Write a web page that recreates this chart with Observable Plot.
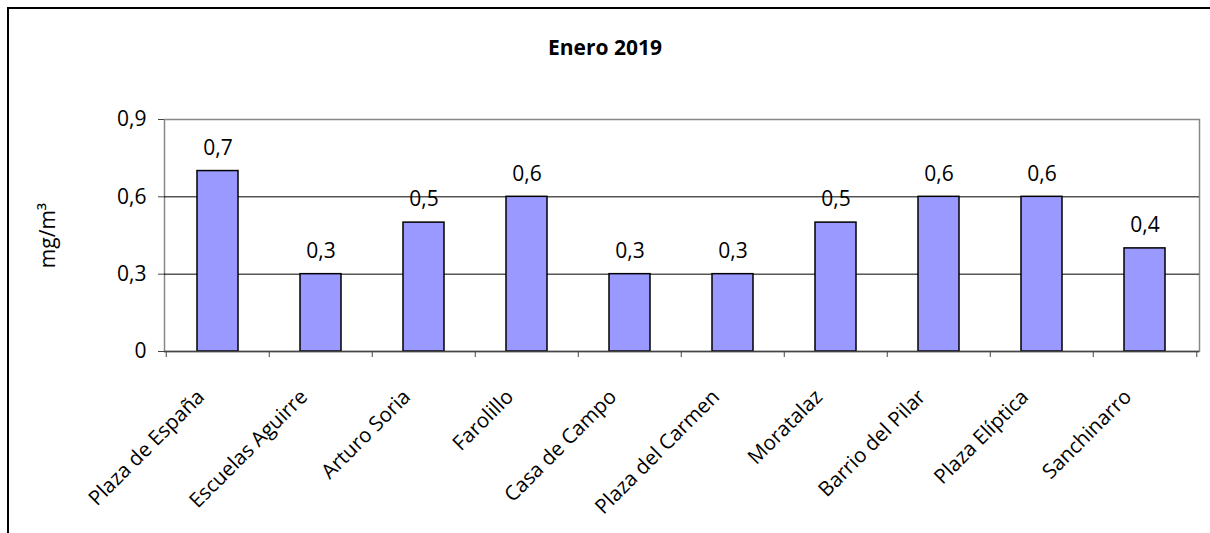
<!DOCTYPE html>
<html>
<head>
<meta charset="utf-8">
<script src="https://cdn.jsdelivr.net/npm/d3@7"></script>
<script src="https://cdn.jsdelivr.net/npm/@observablehq/plot@0.6"></script>
<style>
  html, body { margin: 0; padding: 0; background: #fff; }
  #wrap { position: relative; width: 1210px; height: 533px; overflow: hidden; font-family: "Open Sans", sans-serif; }
  #border { position: absolute; left: 7px; top: 7px; width: 1210px; height: 540px; border-left: 2px solid #000; border-top: 2px solid #000; box-sizing: border-box; }
  #title { height: 80px; box-sizing: border-box; padding-top: 33px; text-align: center; font-weight: bold; font-size: 21px; line-height: 28px; color: #000; }
  svg { display: block; }
</style>
</head>
<body>
<div id="wrap">
  <div id="border"></div>
  <div id="title">Enero 2019</div>
  <div id="chart"></div>
</div>
<script>
const categories = ["Plaza de España", "Escuelas Aguirre", "Arturo Soria", "Farolillo", "Casa de Campo", "Plaza del Carmen", "Moratalaz", "Barrio del Pilar", "Plaza Elíptica", "Sanchinarro"];
const values = [0.7, 0.3, 0.5, 0.6, 0.3, 0.3, 0.5, 0.6, 0.6, 0.4];
const yTicks = [0, 0.3, 0.6, 0.9];
const gridValues = [0.3, 0.6];
const yLabel = "mg/m³";

const fmt = d => String(d).replace(".", ",");
const data = categories.map((c, i) => ({cat: c, v: values[i]}));

const W = 1210, H = 453, mL = 164, mR = 11, mT = 39, mB = 182;
const step = (W - mL - mR) / categories.length;

const chart = Plot.plot({
  width: W, height: H,
  marginLeft: mL, marginRight: mR, marginTop: mT, marginBottom: mB,
  style: {fontFamily: "Open Sans, sans-serif", fontSize: "21px", color: "#000", background: "transparent", overflow: "visible"},
  x: {domain: categories, paddingInner: 0.6, paddingOuter: 0.3},
  y: {domain: [0, 0.9]},
  marks: [
    Plot.frame({stroke: "#888", strokeWidth: 1.5}),
    Plot.ruleY(gridValues, {stroke: "#000", strokeWidth: 1}),
    Plot.barY(data, {x: "cat", y: "v", fill: "#9999FF", stroke: "#000", strokeWidth: 1.5}),
    Plot.text(data, {x: "cat", y: "v", text: d => fmt(d.v), dy: -23, fontSize: 21}),
    Plot.ruleY([0], {stroke: "#444", strokeWidth: 1.5}),
    Plot.axisY({ticks: yTicks, tickFormat: fmt, tickSize: 6, tickPadding: 12, line: true, stroke: "#444", fontSize: 21,
      label: yLabel, labelAnchor: "center", labelArrow: "none", labelOffset: 124}),
    Plot.axisX(categories, {tickSize: 6, tickFormat: () => "", dx: -step / 2, stroke: "#444", label: null}),
    Plot.axisX([categories[categories.length - 1]], {tickSize: 6, tickFormat: () => "", dx: step / 2, stroke: "#444", label: null}),
    Plot.axisX({tickSize: 0, tickRotate: -45, tickPadding: 42, dx: -17, fontSize: 20.5, label: null})
  ]
});
document.getElementById("chart").appendChild(chart);
</script>
</body>
</html>
